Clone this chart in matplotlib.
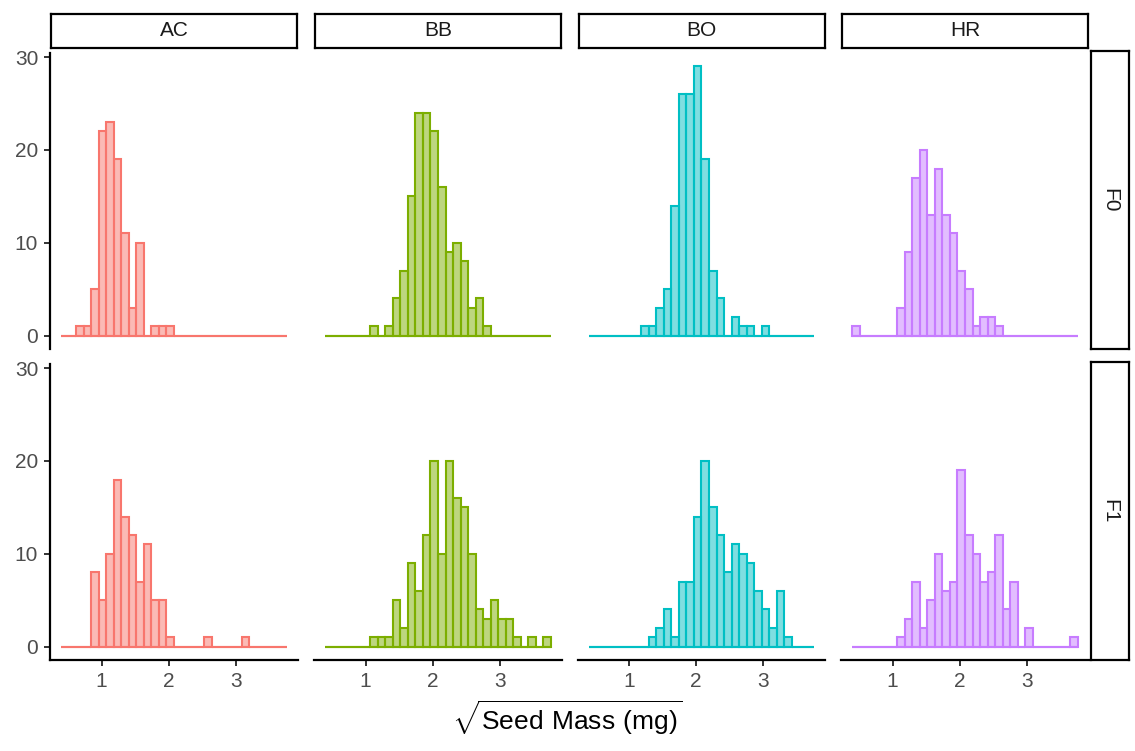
import numpy as np
import matplotlib.pyplot as plt

plt.rcParams['font.family'] = ['Liberation Sans', 'DejaVu Sans']
plt.rcParams['mathtext.fontset'] = 'custom'
plt.rcParams['mathtext.rm'] = 'Liberation Sans'

# shared histogram bins (sqrt seed mass), 30 bins
bin_start = 0.40
bin_width = 0.112
n_bins = 30

populations = ['AC', 'BB', 'BO', 'HR']
generations = ['F0', 'F1']
colors = ['#F8766D', '#7CAE00', '#00BFC4', '#C77CFF']

# counts per population/generation: (first bin index, counts)
counts = {
    ('AC', 'F0'): (2, [1, 1, 5, 22, 23, 19, 11, 3, 10, 0, 1, 1, 1]),
    ('BB', 'F0'): (6, [1, 0, 1, 4, 7, 15, 24, 24, 22, 16, 9, 10, 8, 3, 4, 1]),
    ('BO', 'F0'): (7, [1, 1, 3, 5, 14, 26, 26, 29, 19, 7, 4, 0, 2, 1, 1, 0, 1]),
    ('HR', 'F0'): (0, [1, 0, 0, 0, 0, 0, 3, 9, 17, 20, 13, 18, 13, 11, 7, 5, 1, 2, 2, 1]),
    ('AC', 'F1'): (4, [8, 5, 10, 18, 14, 12, 7, 11, 5, 5, 1, 0, 0, 0, 0, 1, 0, 0, 0, 0, 1]),
    ('BB', 'F1'): (6, [1, 1, 1, 5, 2, 9, 6, 12, 20, 10, 20, 16, 15, 10, 4, 3, 5, 3, 3, 1, 0, 1, 0, 1]),
    ('BO', 'F1'): (8, [1, 2, 4, 1, 7, 7, 14, 20, 15, 12, 8, 11, 10, 9, 6, 4, 2, 6, 1]),
    ('HR', 'F1'): (6, [1, 3, 7, 2, 5, 10, 6, 7, 19, 12, 10, 7, 8, 12, 4, 7, 0, 2, 0, 0, 0, 0, 0, 1]),
}

W, H = 1135, 751
fig = plt.figure(figsize=(W / 100, H / 100), dpi=100)

def px_axes(left, top, width, height):
    return fig.add_axes([left / W, 1 - (top + height) / H, width / W, height / H])

col_left = [50, 314, 577.5, 841]
col_w = 248
row_top = [53, 364]
row_h = 296

edges = bin_start + bin_width * np.arange(n_bins + 1)
lo, hi = edges[0], edges[-1]
pad = 0.05 * (hi - lo)
ymax = max(max(v[1]) for v in counts.values())

for r, gen in enumerate(generations):
    for c, pop in enumerate(populations):
        ax = px_axes(col_left[c], row_top[r], col_w, row_h)
        first, vals = counts[(pop, gen)]
        h = np.zeros(n_bins)
        h[first:first + len(vals)] = vals
        ax.bar(edges[:-1], h, width=bin_width, align='edge',
               color=colors[c], alpha=0.5, linewidth=0)
        ax.bar(edges[:-1], h, width=bin_width, align='edge',
               facecolor='none', edgecolor=colors[c], linewidth=1.5)
        ax.hlines(0, lo, hi, color=colors[c], linewidth=1.5)
        ax.set_xlim(lo - pad, hi + pad)
        ax.set_ylim(-0.05 * ymax, ymax * 1.05)
        for s in ['top', 'right']:
            ax.spines[s].set_visible(False)
        ax.spines['left'].set_visible(c == 0)
        ax.spines['bottom'].set_visible(r == 1)
        for s in ['left', 'bottom']:
            ax.spines[s].set_linewidth(1.6)
        ax.tick_params(colors='#333333', labelcolor='#4d4d4d', labelsize=15,
                       length=4.5, width=1.4, pad=4)
        ax.set_xticks([1, 2, 3])
        ax.set_yticks([0, 10, 20, 30])
        if c != 0:
            ax.tick_params(axis='y', left=False, labelleft=False)
        if r != 1:
            ax.tick_params(axis='x', bottom=False, labelbottom=False)
        ax.patch.set_alpha(0)

def strip(left, top, width, height, label, rot=0):
    sa = px_axes(left, top, width, height)
    sa.set_xticks([])
    sa.set_yticks([])
    for s in sa.spines.values():
        s.set_linewidth(1.6)
    sa.text(0.5, 0.5, label, ha='center', va='center', rotation=rot,
            fontsize=15, color='#1a1a1a', transform=sa.transAxes)

for c, pop in enumerate(populations):
    strip(col_left[c] + 1, 14, col_w - 2, 34, pop)
for r, gen in enumerate(generations):
    strip(1091, row_top[r] - 2, 38, row_h + 2, gen, rot=-90)

fig.text(567 / W, 1 - 718 / H, r'$\sqrt{\mathrm{Seed\ Mass\ (mg)}}$',
         ha='center', va='center', fontsize=19, color='black')

fig.savefig('out.png', dpi=100)
